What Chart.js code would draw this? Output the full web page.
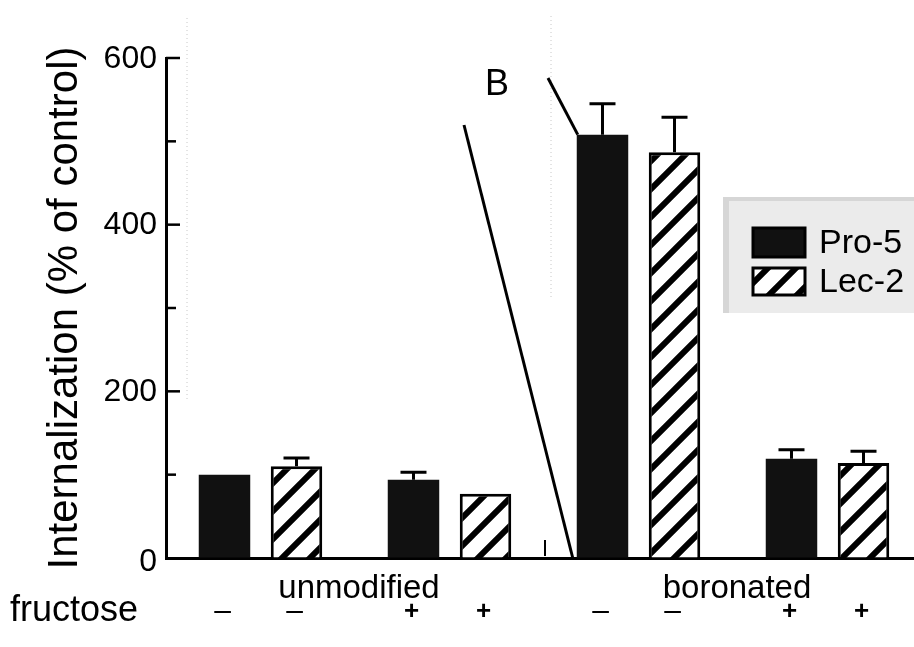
<!DOCTYPE html>
<html>
<head>
<meta charset="utf-8">
<script src="https://cdn.jsdelivr.net/npm/chart.js@4"></script>
<style>
html,body{margin:0;padding:0;background:#fff;overflow:hidden;}
#wrap{width:914px;height:647px;position:relative;overflow:hidden;}
canvas{display:block;}
</style>
</head>
<body>
<div id="wrap"><canvas id="c" width="922" height="647"></canvas></div>
<script>
// ---- data ----
const categories = ['unmod -', 'unmod +', 'boron -', 'boron +'];
const groupLabels = ['unmodified', 'boronated'];
const seriesNames = ['Pro-5', 'Lec-2'];
const pro5 = [100, 94, 508, 119];
const lec2 = [110, 77, 487, 114];
const pro5Err = [0, 9, 37, 11];
const lec2Err = [10, 0, 42, 14];
const fructosePro5 = ['–', '+', '–', '+'];
const fructoseLec2 = ['–', '+', '–', '+'];
const yTicksMajor = [0, 200, 400, 600];
const rowLabel = 'fructose';
const yTitle = 'Internalization (% of control)';
const panelLabel = 'B';

const REG = "'Liberation Sans',Arial,sans-serif";

function makeHatch(){
  const P = 28;
  const c = document.createElement('canvas');
  c.width = P; c.height = P;
  const g = c.getContext('2d');
  g.fillStyle = '#fff'; g.fillRect(0,0,P,P);
  g.strokeStyle = '#000'; g.lineWidth = 6; g.lineCap = 'square';
  g.beginPath();
  g.moveTo(0,P); g.lineTo(P,0);
  g.moveTo(-4,4); g.lineTo(4,-4);
  g.moveTo(P-4,P+4); g.lineTo(P+4,P-4);
  g.stroke();
  return g.createPattern(c,'repeat');
}
const hatch = makeHatch();

const decor = {
  id: 'decor',
  beforeDraw(chart){
    const {ctx} = chart;
    ctx.save();
    ctx.strokeStyle = '#c8c8c8'; ctx.lineWidth = 1; ctx.setLineDash([1,3]);
    ctx.beginPath(); ctx.moveTo(187,18); ctx.lineTo(187,400); ctx.stroke();
    ctx.beginPath(); ctx.moveTo(551,16); ctx.lineTo(551,300); ctx.stroke();
    ctx.restore();
    ctx.save();
    ctx.fillStyle = '#ebebeb';
    ctx.fillRect(723,197,199,116);
    ctx.fillStyle = '#d6d6d6';
    ctx.fillRect(723,197,6,116);
    ctx.fillRect(723,197,199,4);
    ctx.restore();
  },
  afterDatasetsDraw(chart){
    const {ctx, scales:{x, y}, chartArea} = chart;
    ctx.save();
    const errs = [pro5Err, lec2Err];
    const vals = [pro5, lec2];
    ctx.strokeStyle = '#000'; ctx.lineWidth = 3;
    chart.data.datasets.forEach((ds, di) => {
      chart.getDatasetMeta(di).data.forEach((el, i) => {
        const e = errs[di][i];
        if (!e) return;
        const top = y.getPixelForValue(vals[di][i] + e);
        ctx.beginPath();
        ctx.moveTo(el.x, el.y); ctx.lineTo(el.x, top);
        ctx.moveTo(el.x - 13, top); ctx.lineTo(el.x + 13, top);
        ctx.stroke();
      });
    });
    // inward y ticks + tick labels
    ctx.lineWidth = 2.5;
    ctx.fillStyle = '#000';
    ctx.font = '32px ' + REG;
    ctx.textAlign = 'right'; ctx.textBaseline = 'middle';
    y.ticks.forEach(t => {
      const py = y.getPixelForValue(t.value);
      if (t.value !== 0) {
        const len = (t.value % 200 === 0) ? 14 : 10;
        ctx.beginPath(); ctx.moveTo(chartArea.left, py); ctx.lineTo(chartArea.left + len, py); ctx.stroke();
      }
      if (yTicksMajor.includes(t.value)) {
        ctx.fillText(String(t.value), chartArea.left - 9, py + (t.value === 0 ? 4 : 1));
      }
    });
    // group labels
    ctx.textAlign = 'center';
    ctx.font = '33px ' + REG;
    const c0 = x.getPixelForValue(0), c1 = x.getPixelForValue(1), c2 = x.getPixelForValue(2), c3 = x.getPixelForValue(3);
    ctx.fillText(groupLabels[0], (c0 + c1)/2 + 4, 589);
    ctx.fillText(groupLabels[1], (c2 + c3)/2 + 4, 589);
    // fructose row
    ctx.textAlign = 'left';
    ctx.font = '36px ' + REG;
    ctx.fillText(rowLabel, 10, 611);
    ctx.textAlign = 'center';
    const signs = [fructosePro5, fructoseLec2];
    chart.data.datasets.forEach((ds, di) => {
      chart.getDatasetMeta(di).data.forEach((el, i) => {
        const s = signs[di][i];
        ctx.font = (s === '+' ? 'bold 26px ' : '30px ') + REG;
        ctx.fillText(s, el.x - 2, 612);
      });
    });
    // panel label and inset lines
    ctx.font = '36px ' + REG;
    ctx.fillText(panelLabel, 497, 85);
    const b = chart.getDatasetMeta(0).data[2];
    const bl = b.x - b.width/2;
    ctx.lineWidth = 3;
    ctx.beginPath(); ctx.moveTo(464, 125); ctx.lineTo(bl - 4, y.getPixelForValue(0)); ctx.stroke();
    ctx.beginPath(); ctx.moveTo(548, 78); ctx.lineTo(bl + 1, b.y); ctx.stroke();
    ctx.lineWidth = 2;
    ctx.beginPath(); ctx.moveTo(545, 540); ctx.lineTo(545, 556); ctx.stroke();
    // legend
    const items = [{fill:'#111', label: chart.data.datasets[0].label, y: 228, h: 29},
                   {fill: hatch, label: chart.data.datasets[1].label, y: 268, h: 27}];
    ctx.textAlign = 'left';
    ctx.font = '34px ' + REG;
    items.forEach(it => {
      ctx.fillStyle = it.fill;
      ctx.fillRect(753, it.y, 52, it.h);
      ctx.strokeStyle = '#000'; ctx.lineWidth = 3;
      ctx.strokeRect(753, it.y, 52, it.h);
      ctx.fillStyle = '#000';
      ctx.fillText(it.label, 819, it.y + it.h/2 + 1);
    });
    ctx.restore();
  }
};

new Chart(document.getElementById('c'), {
  type: 'bar',
  data: {
    labels: categories,
    datasets: [
      {label: seriesNames[0], data: pro5, backgroundColor: '#111', borderColor: '#000', borderWidth: 0},
      {label: seriesNames[1], data: lec2, backgroundColor: hatch, borderColor: '#000', borderWidth: 3}
    ]
  },
  options: {
    responsive: false,
    animation: false,
    layout: {padding: {top: 58, right: 0, left: 0, bottom: 0}},
    plugins: {legend: {display: false}, tooltip: {enabled: false}},
    datasets: {bar: {categoryPercentage: 0.762, barPercentage: 0.715}},
    scales: {
      x: {
        grid: {display: true, drawOnChartArea: false, drawTicks: false},
        border: {display: true, color: '#000', width: 3},
        ticks: {display: false},
        afterFit: s => { s.height = 89; }
      },
      y: {
        min: 0, max: 600,
        grid: {display: true, drawOnChartArea: false, drawTicks: false},
        border: {display: true, color: '#000', width: 3},
        ticks: {display: false, stepSize: 100},
        title: {display: true, text: yTitle, color: '#000', font: {family: REG, size: 42}, padding: {top: 40, bottom: 0}},
        afterFit: s => { s.width = 166; }
      }
    }
  },
  plugins: [decor]
});
</script>
</body>
</html>
